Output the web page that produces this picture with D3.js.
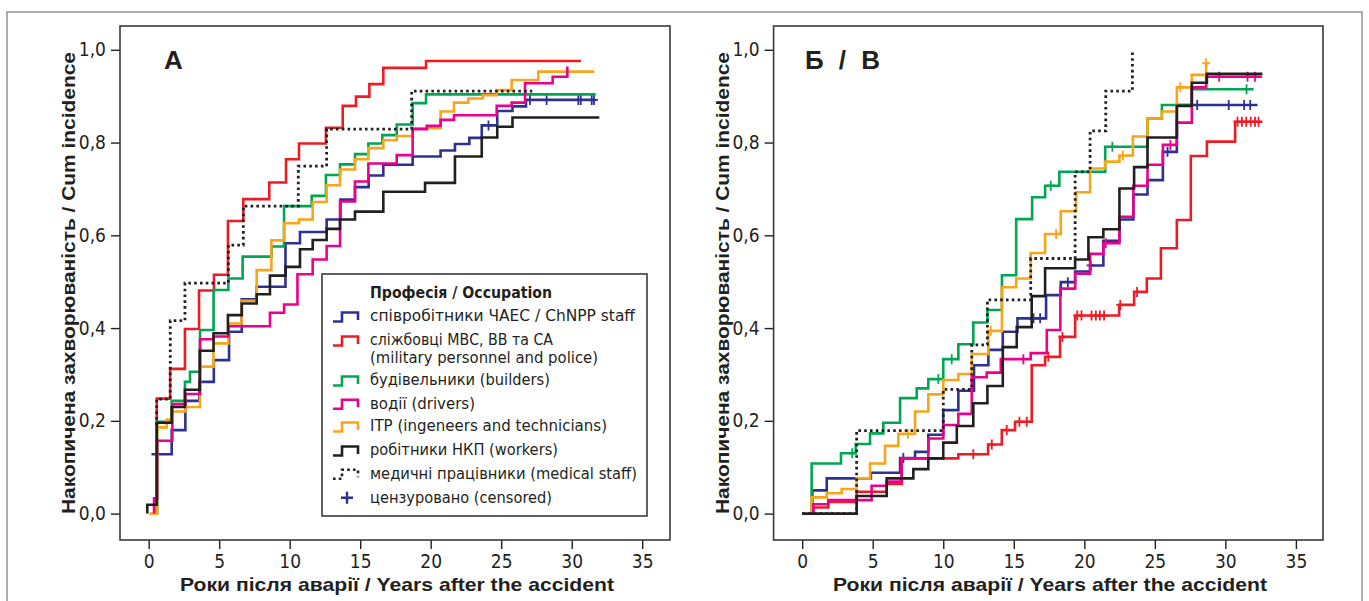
<!DOCTYPE html>
<html><head><meta charset="utf-8">
<script src="https://cdn.jsdelivr.net/npm/d3@7"></script>
<style>html,body{margin:0;padding:0;background:#fff;} svg{display:block}</style>
</head><body>
<svg id="chart" width="1369" height="601"></svg>
<script>
// ---------------- DATA ----------------
const xTicks = [0, 5, 10, 15, 20, 25, 30, 35];
const yTicks = [0, 0.2, 0.4, 0.6, 0.8, 1.0];
const panelLabels = ["A", "Б / В"];
const yTitle = "Накопичена захворюваність / Cum incidence";
const xTitle = "Роки після аварії / Years after the accident";
const legendTitle = "Професія / Occupation";
const seriesKeys = ["staff", "military", "builders", "drivers", "itp", "workers", "medical"];
const seriesLabels = [
  ["співробітники ЧАЕС / ChNPP staff"],
  ["сліжбовці МВС, ВВ та СА", "(military personnel and police)"],
  ["будівельники (builders)"],
  ["водії (drivers)"],
  ["ITP (ingeneers and technicians)"],
  ["робітники НКП (workers)"],
  ["медичні працівники (medical staff)"]
];
const censoredLabel = "цензуровано (censored)";
const seriesColors = ["#2e3192", "#ed1c24", "#00a651", "#ec008c", "#f9a51a", "#231f20", "#231f20"];

// Panel A : [years, cumulative incidence] change points
const aStaff = [[0.2,0.128],[1.63,0.18],[2.6,0.243],[3.59,0.284],[4.62,0.331],[5.7,0.392],[6.6,0.462],[7.66,0.489],[9.7,0.583],[10.73,0.607],[12.62,0.634],[13.6,0.677],[14.63,0.704],[15.6,0.729],[16.64,0.752],[18.72,0.77],[20.7,0.783],[21.72,0.797],[22.74,0.81],[23.62,0.837],[24.72,0.868],[25.8,0.878],[26.76,0.892]];
const aStaffEnd = 31.7;
const aStaffCens = [24.1, 27.04, 28.22, 30.47, 30.64, 31.42, 31.58];

const aMilitary = [[0.57,0],[0.57,0.248],[1.52,0.312],[2.57,0.398],[3.57,0.481],[4.63,0.515],[5.62,0.631],[6.71,0.678],[8.55,0.714],[9.74,0.764],[10.66,0.798],[12.57,0.832],[13.76,0.879],[14.7,0.899],[15.65,0.926],[16.64,0.961],[19.67,0.976]];
const aMilitaryEnd = 30.66;

const aBuilders = [[0.6,0],[0.6,0.198],[1.63,0.243],[2.57,0.284],[2.93,0.306],[3.64,0.396],[4.6,0.482],[5.65,0.507],[6.66,0.554],[8.72,0.576],[9.6,0.663],[11.56,0.685],[12.57,0.73],[13.57,0.753],[14.63,0.775],[15.58,0.798],[16.57,0.816],[17.59,0.839],[18.72,0.885],[19.67,0.904]];
const aBuildersEnd = 31.7;

const aDrivers = [[0.38,0],[0.38,0.033],[0.6,0.157],[1.68,0.236],[2.6,0.258],[3.64,0.376],[4.6,0.382],[5.65,0.404],[8.6,0.433],[9.6,0.451],[10.55,0.516],[11.63,0.548],[12.62,0.577],[13.57,0.673],[14.63,0.716],[15.58,0.755],[17.59,0.773],[18.72,0.829],[19.72,0.836],[20.7,0.849],[21.65,0.859],[24.68,0.879],[25.74,0.886],[26.69,0.928],[28.65,0.942],[29.69,0.964]];
const aDriversEnd = 29.69;

const aItp = [[0.05,0],[0.6,0],[0.6,0.186],[1.28,0.203],[1.63,0.22],[2.6,0.23],[3.64,0.317],[4.6,0.367],[5.65,0.41],[6.6,0.459],[7.66,0.525],[8.7,0.589],[9.6,0.626],[10.66,0.634],[11.63,0.672],[12.62,0.708],[13.57,0.742],[14.63,0.764],[15.58,0.788],[16.64,0.805],[17.59,0.814],[18.72,0.831],[20.7,0.867],[21.65,0.886],[22.67,0.895],[23.69,0.902],[24.68,0.913],[25.74,0.935],[27.63,0.953]];
const aItpEnd = 31.6;

const aWorkers = [[-0.1,0],[-0.1,0.019],[0.57,0.196],[1.63,0.23],[2.57,0.267],[3.62,0.351],[4.6,0.389],[5.62,0.428],[6.6,0.453],[7.66,0.473],[8.6,0.513],[9.71,0.532],[10.73,0.57],[11.63,0.59],[12.62,0.614],[13.57,0.634],[14.63,0.651],[16.64,0.694],[19.6,0.713],[21.72,0.77],[23.62,0.811],[24.72,0.834],[25.8,0.854]];
const aWorkersEnd = 31.96;

const aMedical = [[0.57,0.19],[0.57,0.247],[1.53,0.416],[2.57,0.497],[5.65,0.579],[6.71,0.663],[10.61,0.749],[12.62,0.829],[18.65,0.911]];
const aMedicalEnd = 27.2;

// Panel Б / В
const bStaff = [[0.72,0],[0.72,0.05],[1.74,0.076],[4.87,0.088],[6.94,0.12],[8.0,0.133],[8.94,0.17],[10.0,0.223],[11.07,0.265],[12.18,0.32],[13.2,0.353],[14.22,0.392],[15.26,0.421],[17.29,0.471],[18.33,0.499],[19.35,0.522],[20.41,0.535],[21.35,0.588],[22.49,0.634],[23.48,0.688],[24.48,0.719],[25.57,0.78],[26.56,0.881]];
const bStaffEnd = 32.28;
const bStaffCens = [7.17, 16.4, 16.87, 18.83, 20.45, 25.9, 28.0, 30.24, 31.33, 31.76];

const bMilitary = [[0.79,0],[0.79,0.013],[1.85,0.025],[3.86,0.047],[5.99,0.064],[7.05,0.119],[11.07,0.128],[13.18,0.149],[14.15,0.18],[15.09,0.198],[16.27,0.32],[17.22,0.338],[18.28,0.381],[19.35,0.427],[22.47,0.45],[23.53,0.478],[24.43,0.507],[25.43,0.572],[26.56,0.633],[27.55,0.771],[28.69,0.802],[30.69,0.845]];
const bMilitaryEnd = 32.6;
const bMilitaryCens = [12.13, 13.44, 14.5, 15.4, 15.92, 17.45, 18.45, 19.5, 19.8, 20.51, 20.82, 21.1, 21.4, 22.55, 23.74, 30.86, 31.17, 31.48, 31.8, 32.1, 32.35];

const bBuilders = [[0.67,0],[0.67,0.108],[2.75,0.13],[3.8,0.15],[4.81,0.173],[5.75,0.196],[6.94,0.249],[8.12,0.27],[8.94,0.29],[10.0,0.333],[11.07,0.365],[12.13,0.412],[13.13,0.439],[14.16,0.514],[15.17,0.635],[16.3,0.682],[17.22,0.707],[18.23,0.737],[21.48,0.791],[24.48,0.852],[25.5,0.881],[27.62,0.915]];
const bBuildersEnd = 32.0;
const bBuildersCens = [3.55, 9.65, 10.6, 17.62, 21.99, 31.5];

const bDrivers = [[0.79,0],[0.79,0.02],[1.85,0.029],[4.92,0.06],[5.99,0.069],[7.05,0.119],[8.94,0.162],[10.0,0.191],[11.07,0.215],[12.02,0.294],[13.08,0.304],[14.08,0.333],[16.2,0.346],[17.34,0.396],[18.3,0.485],[19.35,0.517],[20.41,0.56],[21.35,0.583],[22.49,0.64],[23.48,0.707],[24.48,0.752],[25.57,0.795],[26.56,0.843],[27.62,0.919],[28.64,0.942]];
const bDriversEnd = 32.59;
const bDriversCens = [15.68, 21.52, 26.1, 29.56, 31.57, 32.1];

const bItp = [[0.67,0],[0.67,0.035],[1.74,0.044],[2.8,0.053],[3.86,0.076],[4.81,0.108],[5.87,0.146],[6.82,0.172],[8.0,0.22],[8.94,0.257],[10.0,0.288],[11.07,0.301],[12.02,0.344],[13.2,0.394],[14.16,0.488],[15.17,0.507],[16.2,0.562],[17.22,0.603],[18.33,0.652],[19.42,0.693],[20.41,0.744],[21.48,0.759],[22.49,0.772],[23.44,0.813],[24.48,0.852],[25.5,0.867],[26.56,0.919],[27.62,0.946],[28.64,0.971]];
const bItpEnd = 28.64;
const bItpCens = [7.49, 13.37, 18.0, 22.73, 26.8, 28.64];

const bWorkers = [[0,0],[3.86,0.038],[5.99,0.076],[7.88,0.096],[8.94,0.119],[10.0,0.153],[10.96,0.189],[12.13,0.238],[13.13,0.275],[14.22,0.359],[15.21,0.402],[16.27,0.469],[17.22,0.529],[19.35,0.548],[20.29,0.596],[21.35,0.613],[22.49,0.701],[23.53,0.747],[24.48,0.811],[26.56,0.879],[27.62,0.929],[28.69,0.948]];
const bWorkersEnd = 32.63;

const bMedical = [[0,0],[3.86,0.179],[10.0,0.268],[12.02,0.364],[13.13,0.461],[16.2,0.55],[19.35,0.737],[20.41,0.825],[21.52,0.911],[23.41,1.0]];
const bMedicalEnd = 23.41;

// ---------------- DRAWING ----------------
const svg = d3.select("#chart");
const INK = "#231f20";
const NARROW = "'Liberation Sans Narrow','DejaVu Sans Condensed',sans-serif";
const BOLD = "'Liberation Sans','Arial',sans-serif";

svg.append("rect").attr("x", 7).attr("y", 12).attr("width", 1355).attr("height", 600)
  .attr("fill", "none").attr("stroke", "#8c8c8c").attr("stroke-width", 1.4);

const panels = [
  { frame: [120, 26, 670, 540], xr: [148.7, 642.2], label: "A", labelX: 164, labelLen: null, yTitleX: 68, xTitleX: 397,
    series: [
      { pts: aStaff, end: aStaffEnd, cens: aStaffCens, c: 0 },
      { pts: aMilitary, end: aMilitaryEnd, cens: [], c: 1 },
      { pts: aBuilders, end: aBuildersEnd, cens: [], c: 2 },
      { pts: aItp, end: aItpEnd, cens: [], c: 4 },
      { pts: aDrivers, end: aDriversEnd, cens: [], c: 3 },
      { pts: aWorkers, end: aWorkersEnd, cens: [], c: 5 },
      { pts: aMedical, end: aMedicalEnd, cens: [], c: 6, dotted: true }
    ] },
  { frame: [773.6, 26, 1323, 540], xr: [802.2, 1295.9], label: "Б / В", labelX: 805, labelLen: 75, yTitleX: 722.5, xTitleX: 1050,
    series: [
      { pts: bStaff, end: bStaffEnd, cens: bStaffCens, c: 0 },
      { pts: bMilitary, end: bMilitaryEnd, cens: bMilitaryCens, c: 1 },
      { pts: bBuilders, end: bBuildersEnd, cens: bBuildersCens, c: 2 },
      { pts: bItp, end: bItpEnd, cens: bItpCens, c: 4 },
      { pts: bDrivers, end: bDriversEnd, cens: bDriversCens, c: 3 },
      { pts: bWorkers, end: bWorkersEnd, cens: [], c: 5 },
      { pts: bMedical, end: bMedicalEnd, cens: [], c: 6, dotted: true }
    ] }
];

function valueAt(pts, t) {
  let v = pts[0][1];
  for (const p of pts) { if (p[0] <= t + 1e-9) v = p[1]; }
  return v;
}

panels.forEach((P, pi) => {
  const [fx0, fy0, fx1, fy1] = P.frame;
  const x = d3.scaleLinear().domain([0, 35]).range(P.xr);
  const y = d3.scaleLinear().domain([0, 1]).range([513.6, 49.8]);
  const g = svg.append("g");

  // axes
  const xa = g.append("g").attr("transform", `translate(0,${fy1})`)
    .call(d3.axisBottom(x).tickValues(xTicks).tickSize(9).tickPadding(6).tickFormat(d3.format("d")));
  const ya = g.append("g").attr("transform", `translate(${fx0},0)`)
    .call(d3.axisLeft(y).tickValues(yTicks).tickSize(9).tickPadding(5).tickFormat(d => d3.format(".1f")(d).replace(".", ",")));
  [xa, ya].forEach(a => {
    a.select(".domain").remove();
    a.selectAll(".tick line").attr("stroke", INK).attr("stroke-width", 1.4);
    a.selectAll(".tick text").attr("fill", INK).style("font-family", NARROW).style("font-size", "19px");
  });

  // frame
  g.append("rect").attr("x", fx0).attr("y", fy0).attr("width", fx1 - fx0).attr("height", fy1 - fy0)
    .attr("fill", "none").attr("stroke", "#3a3a3a").attr("stroke-width", 1.6);

  // curves
  const line = d3.line().curve(d3.curveStepAfter).x(d => x(d[0])).y(d => y(d[1]));
  P.series.forEach(s => {
    const last = s.pts[s.pts.length - 1];
    const data = s.pts.concat([[s.end, last[1]]]);
    const path = g.append("path").attr("d", line(data)).attr("fill", "none")
      .attr("stroke", seriesColors[s.c]).attr("stroke-width", 2.6).attr("stroke-linejoin", "miter");
    if (s.dotted) path.attr("stroke-dasharray", "2.6,3.2").attr("stroke-width", 2.8);
    s.cens.forEach(t => {
      const cx = x(t), cy = y(valueAt(s.pts, t));
      g.append("path").attr("d", `M${cx},${cy - 5}V${cy + 5}M${cx - 4},${cy}H${cx + 4}`)
        .attr("stroke", seriesColors[s.c]).attr("stroke-width", 1.8).attr("fill", "none");
    });
  });

  // panel label
  const lab = g.append("text").attr("x", P.labelX).attr("y", 69).text(P.label)
    .attr("fill", INK).style("font-family", BOLD).style("font-weight", "bold").style("font-size", "26px");
  if (P.labelLen) lab.attr("textLength", P.labelLen).attr("lengthAdjust", "spacing");

  // axis titles
  g.append("text").attr("transform", `translate(${P.yTitleX},283) rotate(-90)`).attr("text-anchor", "middle")
    .attr("dy", "0.35em").text(yTitle).attr("fill", INK)
    .style("font-family", BOLD).style("font-weight", "bold").style("font-size", "19px")
    .attr("textLength", 462).attr("lengthAdjust", "spacingAndGlyphs");
  g.append("text").attr("x", P.xTitleX).attr("y", 585).attr("text-anchor", "middle").attr("dy", "0.35em")
    .text(xTitle).attr("fill", INK)
    .style("font-family", BOLD).style("font-weight", "bold").style("font-size", "18.5px")
    .attr("textLength", 434).attr("lengthAdjust", "spacingAndGlyphs");
});

// ---------------- LEGEND (panel A) ----------------
const lg = svg.append("g");
lg.append("rect").attr("x", 322).attr("y", 274).attr("width", 325).attr("height", 242)
  .attr("fill", "#fff").attr("stroke", "#3a3a3a").attr("stroke-width", 1.6);
lg.append("text").attr("x", 370).attr("y", 292.7).attr("dy", "0.35em").text(legendTitle)
  .attr("fill", INK).style("font-family", NARROW).style("font-weight", "bold").style("font-size", "16px")
  .attr("textLength", 182).attr("lengthAdjust", "spacingAndGlyphs");
const rowY = [[316], [340, 357.5], [380], [403.3], [426], [450], [473.3]];
const rowLen = [[265], [183, 228], [180], [105], [237], [188], [267]];
seriesLabels.forEach((lines, i) => {
  const cy = rowY[i][0];
  const sym = lg.append("path")
    .attr("d", `M333,${cy + 5.5}H342V${cy - 3.5}H358V${cy + 4}`)
    .attr("fill", "none").attr("stroke", seriesColors[i]).attr("stroke-width", 2.6);
  if (i === 6) sym.attr("stroke-dasharray", "2.6,3.2");
  lines.forEach((ln, j) => {
    lg.append("text").attr("x", 370).attr("y", rowY[i][j]).attr("dy", "0.35em").text(ln)
      .attr("fill", INK).style("font-family", NARROW).style("font-size", "15px")
      .attr("textLength", rowLen[i][j]).attr("lengthAdjust", "spacingAndGlyphs");
  });
});
lg.append("path").attr("d", "M341,497.7H353M347,491.7V503.7").attr("stroke", seriesColors[0]).attr("stroke-width", 2.4);
lg.append("text").attr("x", 370).attr("y", 497.7).attr("dy", "0.35em").text(censoredLabel)
  .attr("fill", INK).style("font-family", NARROW).style("font-size", "15px")
  .attr("textLength", 182).attr("lengthAdjust", "spacingAndGlyphs");
</script>
</body></html>
